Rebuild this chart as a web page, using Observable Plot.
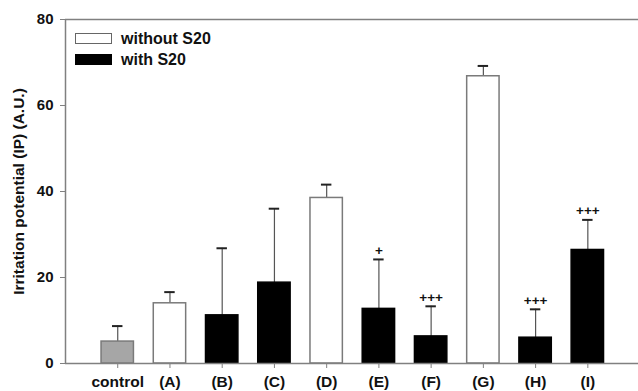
<!DOCTYPE html>
<html>
<head>
<meta charset="utf-8">
<script src="https://cdn.jsdelivr.net/npm/d3@7"></script>
<script src="https://cdn.jsdelivr.net/npm/@observablehq/plot@0.6"></script>
<style>
  html, body { margin: 0; padding: 0; background: #fff; }
  #wrap { position: relative; width: 638px; height: 391px; font-family: "Liberation Sans", Arial, sans-serif; }
  #wrap svg g[aria-label='y-axis tick label'] { font-size: 15px; fill: #111; }
  #wrap svg g[aria-label='x-axis tick label'] { font-size: 15.5px; fill: #111; }
  #wrap svg g[aria-label='y-axis label'] { font-size: 15.5px; fill: #111; }
  #wrap svg g[aria-label='text'] { font-size: 13.5px; fill: #111; }
  .legend { position: absolute; left: 75px; top: 28px; font-weight: bold; font-size: 16px; color: #111; }
  .legend .row { display: flex; align-items: center; height: 21px; }
  .legend .sw { width: 37px; height: 11px; margin-right: 9px; box-sizing: border-box; }
</style>
</head>
<body>
<div id="wrap"></div>
<script>
const categories = ["control", "(A)", "(B)", "(C)", "(D)", "(E)", "(F)", "(G)", "(H)", "(I)"];
const positions  = [1, 2, 3, 4, 5, 6, 7, 8, 9, 10];
const groups     = ["control", "without", "with", "with", "without", "with", "with", "without", "with", "with"];
const means      = [5.1, 14.0, 11.2, 18.8, 38.5, 12.7, 6.3, 66.8, 6.0, 26.4];
const errTops    = [8.7, 16.6, 26.8, 36.0, 41.6, 24.2, 13.3, 69.2, 12.6, 33.4];
const marks      = ["", "", "", "", "", "+", "+++", "", "+++", "+++"];
const yTicks     = [0, 20, 40, 60, 80];

const data = categories.map((c, i) => ({
  cat: c, pos: positions[i], group: groups[i], mean: means[i], err: errTops[i], mark: marks[i]
}));

const fillOf = g => g === "control" ? "#a6a6a6" : g === "with" ? "#000" : "#fff";
const strokeOf = g => g === "with" ? "#000" : "#7a7a7a";
const half = 0.31, cap = 0.1;
const font = "Liberation Sans, Arial, sans-serif";

const chart = Plot.plot({
  width: 638,
  height: 391,
  marginLeft: 65,
  marginRight: 0,
  marginTop: 19,
  marginBottom: 28,
  style: { fontFamily: font, fontWeight: "bold", background: "#fff" },
  x: { domain: [0, 10.97] },
  y: { domain: [0, 80] },
  marks: [
    Plot.ruleX(data, { x: "pos", y1: "mean", y2: "err", stroke: "#555", strokeWidth: 1.2 }),
    Plot.ruleY(data, { y: "err", x1: d => d.pos - cap, x2: d => d.pos + cap, stroke: "#222", strokeWidth: 2 }),
    Plot.rectY(data, {
      x1: d => d.pos - half, x2: d => d.pos + half, y1: 0, y2: "mean",
      fill: d => fillOf(d.group), stroke: d => strokeOf(d.group), strokeWidth: 1.5
    }),
    Plot.text(data.filter(d => d.mark), { x: "pos", y: "err", text: "mark", dy: -9, fontWeight: "bold" }),
    Plot.axisY({
      ticks: yTicks, tickSize: 5, tickPadding: 7, stroke: "#808080",
      label: "Irritation potential (IP) (A.U.)", labelAnchor: "center", labelArrow: "none", labelOffset: 53
    }),
    Plot.axisX({
      ticks: positions, tickFormat: (d) => categories[positions.indexOf(d)] ?? "",
      tickSize: 5, tickPadding: 7, stroke: "#808080", label: null
    }),
    Plot.ruleX([0], { stroke: "#808080", strokeWidth: 1.5 }),
    Plot.ruleY([0], { stroke: "#808080", strokeWidth: 1.5 }),
    Plot.ruleY([80], { stroke: "#808080", strokeWidth: 1.5 })
  ]
});

const wrap = document.getElementById("wrap");
wrap.appendChild(chart);

const legend = document.createElement("div");
legend.className = "legend";
legend.innerHTML = `
  <div class="row"><div class="sw" style="background:#fff;border:1.5px solid #666"></div>without S20</div>
  <div class="row"><div class="sw" style="background:#000"></div>with S20</div>`;
wrap.appendChild(legend);
</script>
</body>
</html>
